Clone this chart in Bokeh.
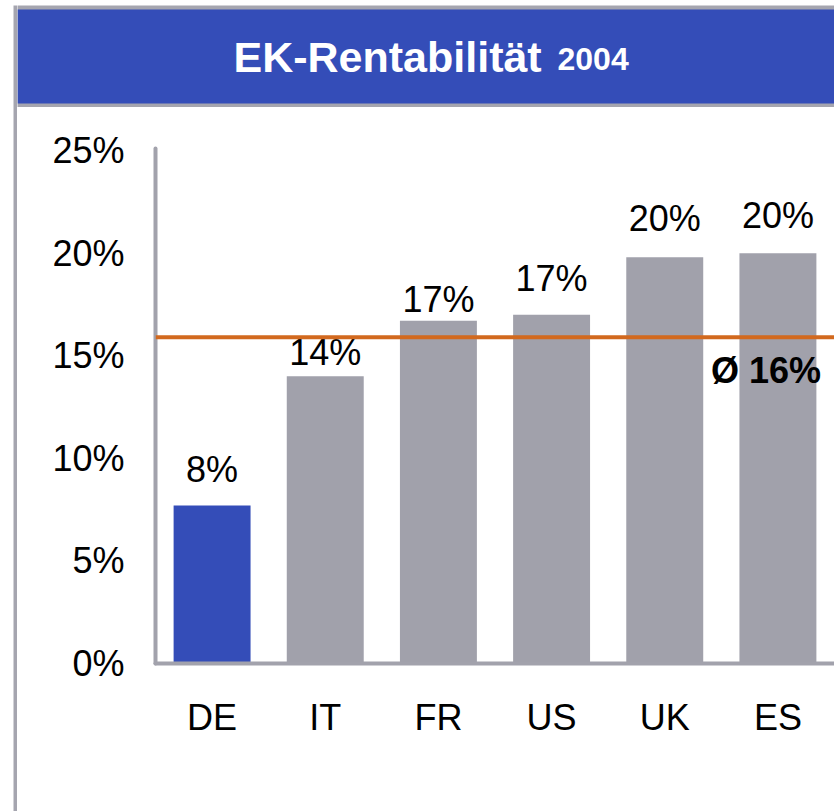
from bokeh.plotting import figure
from bokeh.layouts import row, column
from bokeh.models import Range1d, FactorRange, Span, ColumnDataSource, FixedTicker
from bokeh.core.properties import value
from bokeh.embed import file_html
from bokeh.resources import INLINE

# ---------------- data ----------------
title_main = "EK-Rentabilität"
title_year = "2004"
countries = ["DE", "IT", "FR", "US", "UK", "ES"]
roe_pct = [7.7, 14.0, 16.7, 17.0, 19.8, 20.0]
bar_labels = ["8%", "14%", "17%", "17%", "20%", "20%"]
highlight = "DE"
average_pct = 15.9
average_label = "Ø 16%"
y_ticks = [0, 5, 10, 15, 20, 25]
y_tick_labels = ["0%", "5%", "10%", "15%", "20%", "25%"]

# ---------------- style ----------------
FONT = "Liberation Sans"
BLUE = "#344DB8"
BAR_GRAY = "#A1A1AB"
AXIS_GRAY = "#A2A2AC"
FRAME_GRAY = "#A5A5AF"
ORANGE = "#D2691E"
label_gap_px = [36, 24, 21, 36, 39, 38]   # label placement above bars (style)

PAGE_W, PAGE_H = 834, 811
STRIP_W = 17
HEAD_H = 107
MAIN_W = PAGE_W - STRIP_W
CHART_H = PAGE_H - HEAD_H


def bare(fig):
    fig.outline_line_color = None
    fig.xaxis.visible = False
    fig.yaxis.visible = False
    fig.xgrid.visible = False
    fig.ygrid.visible = False
    fig.border_fill_color = "white"
    return fig


# left frame strip
strip = figure(width=STRIP_W, height=PAGE_H, x_range=Range1d(0, 1), y_range=Range1d(0, 1),
               output_backend="svg", toolbar_location=None, frame_align=False,
               min_border_left=13, min_border_right=0, min_border_top=5, min_border_bottom=0)
bare(strip)
strip.background_fill_color = FRAME_GRAY

# header with title
head = figure(width=MAIN_W, height=HEAD_H, x_range=Range1d(0, MAIN_W), y_range=Range1d(0, HEAD_H - 5),
              output_backend="svg", toolbar_location=None, frame_align=False,
              min_border_left=0, min_border_right=0, min_border_top=5, min_border_bottom=0)
bare(head)
head.background_fill_color = FRAME_GRAY
head.quad(left=[0], right=[MAIN_W], bottom=[4], top=[98], fill_color=BLUE, line_color=None)
head.text(x=[216], y=[51], text=[title_main], text_align="left", text_baseline="alphabetic",
          text_font=value(FONT), text_font_size="43px", text_font_style="bold", text_color="white")
head.text(x=[540], y=[48.5], text=[title_year], text_align="left", text_baseline="alphabetic",
          text_font=value(FONT), text_font_size="32px", text_font_style="bold", text_color="white")

# chart
p = figure(width=MAIN_W, height=CHART_H,
           x_range=FactorRange(*countries, range_padding=0),
           y_range=Range1d(0, 25.1),
           output_backend="svg", toolbar_location=None, frame_align=False,
           min_border_left=138, min_border_right=0,
           min_border_top=41, min_border_bottom=148)
p.outline_line_color = None
p.xgrid.visible = False
p.ygrid.visible = False
p.background_fill_color = "white"
p.border_fill_color = "white"

colors = [BLUE if c == highlight else BAR_GRAY for c in countries]
src = ColumnDataSource(dict(x=countries, top=roe_pct, color=colors,
                            label=bar_labels, gap=[-g for g in label_gap_px]))
p.vbar(x="x", top="top", bottom=0, width=0.68, fill_color="color",
       line_color=None, source=src)
p.text(x="x", y="top", text="label", y_offset="gap", source=src,
       text_align="center", text_baseline="alphabetic",
       text_font=value(FONT), text_font_size="36px", text_color="black")

# average line
p.add_layout(Span(location=average_pct, dimension="width",
                  line_color=ORANGE, line_width=4))
avg_src = ColumnDataSource(dict(x=[countries[-1]], y=[average_pct], t=[average_label]))
p.text(x="x", y="y", text="t", source=avg_src, x_offset=-12, y_offset=33,
       text_align="center", text_baseline="alphabetic",
       text_font=value(FONT), text_font_size="36px", text_font_style="bold",
       text_color="black")

# axes
for ax in (p.xaxis[0], p.yaxis[0]):
    ax.axis_line_color = AXIS_GRAY
    ax.axis_line_width = 4
    ax.axis_line_cap = "round"
    ax.major_tick_line_color = None
    ax.minor_tick_line_color = None
    ax.major_tick_in = 0
    ax.major_tick_out = 0
    ax.major_label_text_font = FONT
    ax.major_label_text_font_size = "36px"
    ax.major_label_text_color = "black"

p.yaxis[0].ticker = FixedTicker(ticks=y_ticks)
p.yaxis[0].major_label_overrides = {t: l for t, l in zip(y_ticks, y_tick_labels)}
p.yaxis[0].major_label_standoff = 31
p.xaxis[0].major_label_standoff = 33

layout = row(strip, column(head, p, spacing=0), spacing=0)
open("out.html", "w").write(file_html(layout, INLINE))
